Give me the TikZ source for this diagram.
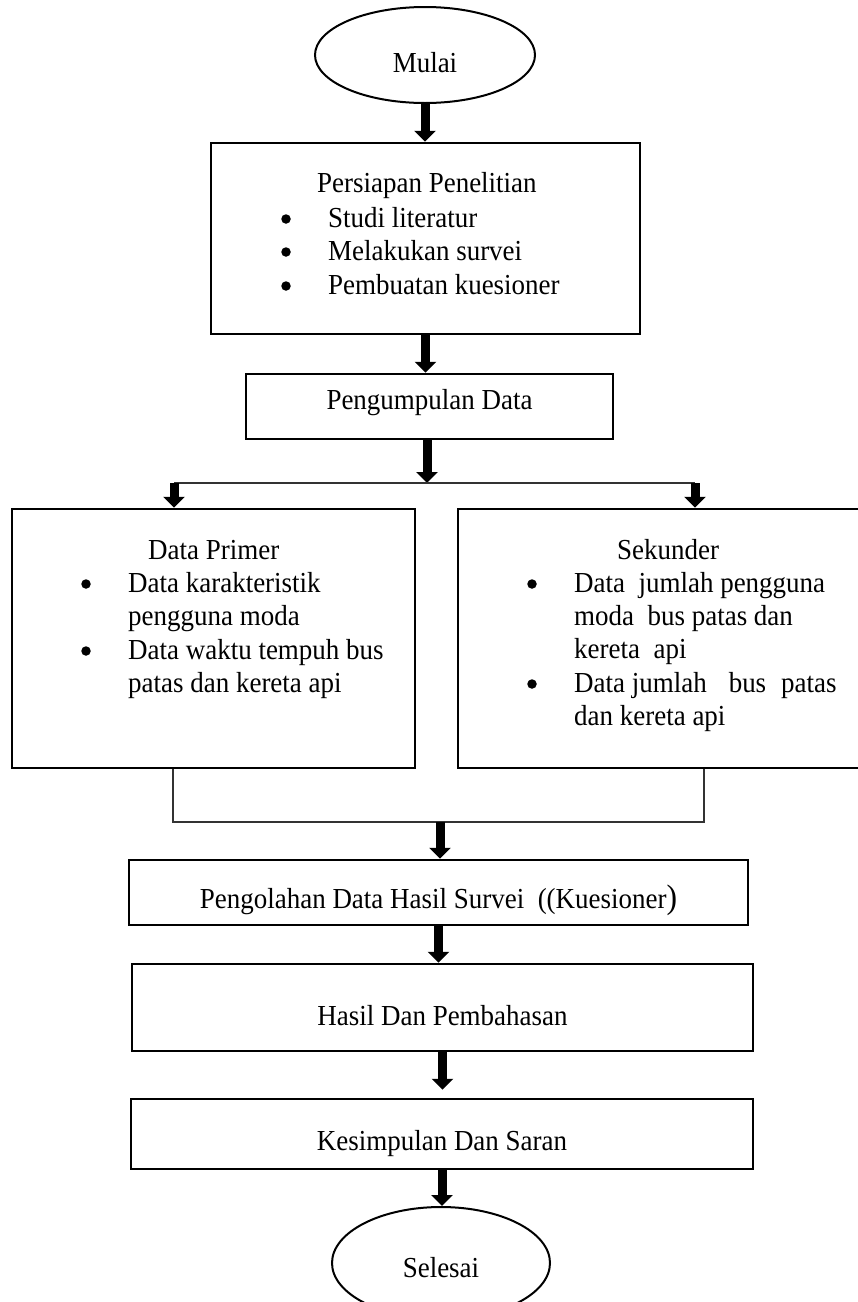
\documentclass[tikz,border=0pt]{standalone}
\usepackage{fontspec}
\setmainfont{Liberation Serif}[FakeStretch=0.93]
\usetikzlibrary{shapes.geometric,arrows.meta,calc}
\tikzset{
  box/.style={draw=black, line width=2.5pt, rectangle, inner sep=0pt},
  oval/.style={draw=black, line width=2pt, ellipse, inner sep=0pt, minimum width=220pt, minimum height=96pt, text height=34pt, text depth=0pt},
  arr/.style={line width=9pt, black, -{Triangle[width=21pt,length=11pt]}},
  thinline/.style={draw=black!80, line width=1.5pt},
  lbl/.style={inner sep=0pt, anchor=base west},
  lblc/.style={inner sep=0pt, anchor=base},
  bul/.style={circle, fill=black, inner sep=0pt, minimum size=9.5pt, yshift=8pt}
}
\begin{document}
\begin{tikzpicture}[x=1pt, y=-1pt, font=\fontsize{29pt}{33pt}\selectfont]
\useasboundingbox (0,0) rectangle (858,1302);
\clip (0,0) rectangle (858,1302);

% shapes
\node[oval] (mulai) at (425,55) {Mulai};
\node[box, minimum width=429pt, minimum height=191pt] (persiapan) at (425.5,238.5) {};
\node[box, minimum width=367pt, minimum height=65pt] (pengumpulan) at (429.5,406.5) {};
\node[box, minimum width=403pt, minimum height=259pt] (primer) at (213.5,638.5) {};
\node[box, minimum width=403pt, minimum height=259pt] (sekunder) at (659.5,638.5) {};
\node[box, minimum width=619pt, minimum height=65pt] (pengolahan) at (438.5,892.5) {};
\node[box, minimum width=621pt, minimum height=87pt] (hasil) at (442.5,1007.5) {};
\node[box, minimum width=622pt, minimum height=70pt] (kesimpulan) at (442,1134) {};
\node[oval, minimum width=218pt, minimum height=112pt, text height=28pt] (selesai) at (441,1263) {Selesai};

% texts: Persiapan
\node[lbl] (t1) at (317,192) {Persiapan Penelitian};
\node[bul] (b1) at (286,227) {};
\node[lbl] (t2) at (328,227) {Studi literatur};
\node[bul] (b2) at (286,260) {};
\node[lbl] (t3) at (328,260) {Melakukan survei};
\node[bul] (b3) at (286,294) {};
\node[lbl] (t4) at (328,294) {Pembuatan kuesioner};

% Pengumpulan
\node[lblc] (t5) at (429.5,409) {Pengumpulan Data};

% Primer
\node[lbl] (t6) at (148,559) {Data Primer};
\node[bul] (b4) at (86,592) {};
\node[lbl] (t7) at (128,592) {Data karakteristik};
\node[lbl] (t8) at (128,625) {pengguna moda};
\node[bul] (b5) at (86,659) {};
\node[lbl] (t9) at (128,659) {Data waktu tempuh bus};
\node[lbl] (t10) at (128,692) {patas dan kereta api};

% Sekunder
\node[lbl] (t11) at (617,559) {Sekunder};
\node[bul] (b6) at (532,592) {};
\node[lbl] (t12) at (574,592) {Data\ \ jumlah pengguna};
\node[lbl] (t13) at (574,625) {moda\ \ bus patas dan};
\node[lbl] (t14) at (574,658) {kereta\ \ api};
\node[bul] (b7) at (532,692) {};
\node[lbl] (t15) at (574,692) {Data jumlah\hspace{22pt}bus\hspace{15pt}patas};
\node[lbl] (t16) at (574,725) {dan kereta api};

% lower boxes
\node[lblc] (t17) at (438.5,908) {Pengolahan Data Hasil Survei\ \ ((Kuesioner{\fontsize{34pt}{33pt}\selectfont)}};
\node[lblc] (t18) at (442.5,1025) {Hasil Dan Pembahasan};
\node[lblc] (t19) at (442,1150) {Kesimpulan Dan Saran};

% coordinates
\coordinate (split) at (427,483);
\coordinate (splitL) at (174,483);
\coordinate (splitR) at (695,483);
\coordinate (joinL) at (173,822);
\coordinate (joinR) at (704,822);
\coordinate (joinM) at (440,822);
\coordinate (k8) at ([yshift=8pt]kesimpulan.north);

% connectors
\draw[arr] (mulai.south) -- (mulai.south |- persiapan.north);
\draw[arr] (persiapan.south) -- (persiapan.south |- pengumpulan.north);
\draw[arr] (pengumpulan.south -| split) -- (split);
\draw[thinline] (splitL) -- (splitR);
\draw[arr] (splitL) -- (splitL |- primer.north);
\draw[arr] (splitR) -- (splitR |- sekunder.north);
\draw[thinline] (primer.south -| joinL) -- (joinL) -- (joinR) -- (sekunder.south -| joinR);
\draw[arr] (joinM) -- (joinM |- pengolahan.north);
\draw[arr] (pengolahan.south) -- (pengolahan.south |- hasil.north);
\draw[arr] (hasil.south) -- (hasil.south |- k8);
\draw[arr] (kesimpulan.south) -- (kesimpulan.south |- selesai.north);
\end{tikzpicture}
\end{document}
